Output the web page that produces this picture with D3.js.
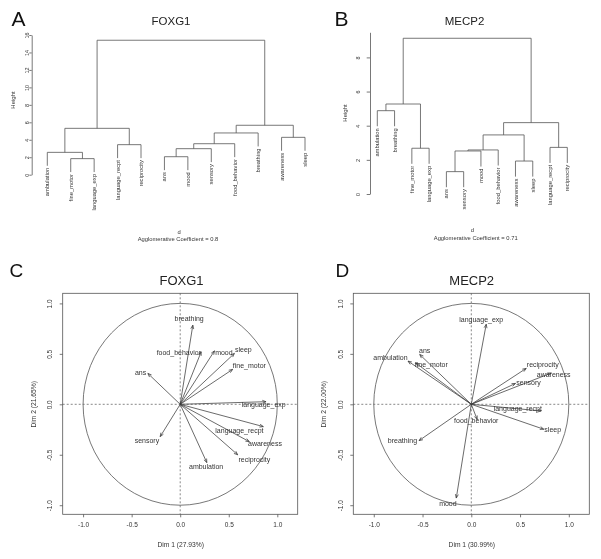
<!DOCTYPE html>
<html>
<head>
<meta charset="utf-8">
<script src="https://cdn.jsdelivr.net/npm/d3@7"></script>
<style>
  html, body { margin: 0; padding: 0; background: #fff; }
  svg { display: block; will-change: transform; }
</style>
</head>
<body>
<svg id="fig" width="601" height="559"></svg>
<script>
// ---------------- DATA ----------------
// Panel A: FOXG1 dendrogram (leaf order, R-style merges: negative = leaf index, positive = merge index, height)
const dendroA_labels = ["ambulation","fine_motor","language_exp","language_recpt","reciprocity","ans","mood","sensory","food_behavior","breathing","awareness","sleep"];
const dendroA_left   = [-2, -6, -1,  2, -4,  4, -11,  6,  3,  8,  9];
const dendroA_right  = [-3, -7,  1, -8, -5, -9, -12, -10, 5,  7, 10];
const dendroA_height = [1.84, 2.06, 2.56, 2.98, 3.44, 3.55, 4.28, 4.78, 5.31, 5.66, 15.4];
const dendroA_ticks  = [0, 2, 4, 6, 8, 10, 12, 14, 16];
const dendroA_coef   = "0.8";

// Panel B: MECP2 dendrogram
const dendroB_labels = ["ambulation","breathing","fine_motor","language_exp","ans","sensory","mood","food_behavior","awareness","sleep","language_recpt","reciprocity"];
const dendroB_left   = [-5, -9, 1, 3, -3, -11, 4, 7, -1,  9, 10];
const dendroB_right  = [-6, -10, -7, -8, -4, -12, 2, 6, -2, 5, 8];
const dendroB_height = [1.31, 1.93, 2.52, 2.58, 2.68, 2.73, 3.46, 4.18, 4.88, 5.27, 9.12];
const dendroB_ticks  = [0, 2, 4, 6, 8];
const dendroB_coef   = "0.71";

// Panel C: FOXG1 variables factor map
const pcaC_vars   = ["breathing","food_behavior","mood","sleep","fine_motor","ans","language_exp","language_recpt","awareness","reciprocity","ambulation","sensory"];
const pcaC_dim1   = [0.130, 0.216, 0.353, 0.558, 0.540, -0.333, 0.884, 0.856, 0.712, 0.592, 0.274, -0.206];
const pcaC_dim2   = [0.784, 0.520, 0.530, 0.504, 0.346, 0.306, 0.026, -0.221, -0.370, -0.500, -0.577, -0.320];
const pcaC_labX   = [0.092, -0.014, 0.450, 0.650, 0.712, -0.408, 0.860, 0.610, 0.873, 0.764, 0.267, -0.343];
const pcaC_labY   = [0.850, 0.510, 0.510, 0.543, 0.388, 0.316, -0.007, -0.264, -0.386, -0.550, -0.617, -0.360];
const pcaC_axis   = ["Dim 1 (27.93%)", "Dim 2 (21.65%)"];

// Panel D: MECP2 variables factor map
const pcaD_vars   = ["language_exp","ans","ambulation","fine_motor","reciprocity","awareness","sensory","language_recpt","sleep","food_behavior","breathing","mood"];
const pcaD_dim1   = [0.153, -0.529, -0.649, -0.570, 0.563, 0.820, 0.453, 0.716, 0.743, 0.060, -0.536, -0.154];
const pcaD_dim2   = [0.793, 0.494, 0.428, 0.410, 0.356, 0.310, 0.207, -0.066, -0.247, -0.150, -0.360, -0.929];
const pcaD_labX   = [0.102, -0.478, -0.829, -0.410, 0.733, 0.845, 0.587, 0.477, 0.835, 0.051, -0.706, -0.240];
const pcaD_labY   = [0.843, 0.537, 0.460, 0.395, 0.395, 0.290, 0.217, -0.040, -0.254, -0.162, -0.360, -0.985];
const pcaD_axis   = ["Dim 1 (30.99%)", "Dim 2 (22.00%)"];

const pcaTicks = [-1, -0.5, 0, 0.5, 1];
const panelLetters = ["A", "B", "C", "D"];
const panelTitles  = ["FOXG1", "MECP2", "FOXG1", "MECP2"];

// ---------------- DRAWING ----------------
const FONT = "'Liberation Sans', Arial, Helvetica, sans-serif";
const INK = "#333";
const LINE = "#555";
const svg = d3.select("#fig");
svg.append("rect").attr("width", 601).attr("height", 559).attr("fill", "#fff");

function txt(g, x, y, s, size, opts = {}) {
  const t = g.append("text")
    .attr("x", x).attr("y", y)
    .attr("font-family", FONT)
    .attr("font-size", size)
    .attr("fill", opts.fill || INK)
    .attr("text-anchor", opts.anchor || "middle")
    .text(s);
  if (opts.rotate) t.attr("transform", `rotate(${opts.rotate},${x},${y})`);
  if (opts.dy) t.attr("dy", opts.dy);
  return t;
}

function dendro(cfg) {
  const g = svg.append("g");
  const { labels, left, right, height } = cfg;
  const x = d3.scalePoint().domain(labels).range([cfg.x0, cfg.x1]);
  const y = d3.scaleLinear().domain([0, cfg.yMax]).range([cfg.yBase, cfg.yTop]);
  const hang = 0.1 * d3.max(height);
  const nodes = [];
  const leafPos = [];
  function child(c, h) {
    if (c < 0) {
      const name = labels[-c - 1];
      const n = { x: x(name), h: h - hang };
      leafPos.push({ name, x: n.x, h: n.h });
      return n;
    }
    return nodes[c - 1];
  }
  height.forEach((h, i) => {
    const a = child(left[i], h), b = child(right[i], h);
    g.append("path")
      .attr("d", `M${a.x},${y(a.h)}V${y(h)}H${b.x}V${y(b.h)}`)
      .attr("fill", "none").attr("stroke", LINE).attr("stroke-width", 0.8);
    nodes.push({ x: (a.x + b.x) / 2, h });
  });
  leafPos.forEach(p => {
    const yy = y(p.h) + 2;
    g.append("text")
      .attr("transform", `translate(${p.x},${yy}) rotate(-90)`)
      .attr("dy", "0.35em")
      .attr("text-anchor", "end")
      .attr("font-family", FONT).attr("font-size", 5.8).attr("fill", INK)
      .text(p.name);
  });
  const ax = g.append("g").attr("transform", `translate(${cfg.axisX},0)`)
    .call(d3.axisLeft(y).tickValues(cfg.ticks).tickSize(cfg.tickLen).tickSizeOuter(0).tickFormat(d3.format("d")));
  ax.attr("font-family", FONT).attr("font-size", 5.5);
  ax.select(".domain").attr("stroke", LINE).attr("stroke-width", 0.8);
  ax.selectAll(".tick line").attr("stroke", LINE).attr("stroke-width", 0.8);
  ax.selectAll(".tick text")
    .attr("x", null).attr("dy", "0.35em")
    .attr("transform", `translate(${-cfg.labOff},0) rotate(-90)`)
    .attr("text-anchor", "middle").attr("fill", INK);
  g.append("text")
    .attr("transform", `translate(${cfg.heightX},${cfg.heightY}) rotate(-90)`)
    .attr("dy", "0.35em").attr("text-anchor", "middle")
    .attr("font-family", FONT).attr("font-size", 6).attr("fill", INK).text("Height");
  txt(g, cfg.dX, cfg.dY, "d", 5.8);
  txt(g, cfg.acX, cfg.acY, "Agglomerative Coefficient =  " + cfg.coef, 5.8);
}

function pca(cfg) {
  const g = svg.append("g");
  const x = d3.scaleLinear().domain([-1.21, 1.21]).range([cfg.left, cfg.right]);
  const y = d3.scaleLinear().domain([-1.09, 1.10]).range([cfg.bottom, cfg.top]);
  g.append("rect").attr("x", cfg.left).attr("y", cfg.top)
    .attr("width", cfg.right - cfg.left).attr("height", cfg.bottom - cfg.top)
    .attr("fill", "none").attr("stroke", LINE).attr("stroke-width", 0.8);
  g.append("ellipse").attr("cx", x(0)).attr("cy", y(0))
    .attr("rx", x(1) - x(0)).attr("ry", y(0) - y(1))
    .attr("fill", "none").attr("stroke", LINE).attr("stroke-width", 0.8);
  g.append("line").attr("x1", cfg.left).attr("x2", cfg.right).attr("y1", y(0)).attr("y2", y(0))
    .attr("stroke", LINE).attr("stroke-width", 0.7).attr("stroke-dasharray", "2,2");
  g.append("line").attr("x1", x(0)).attr("x2", x(0)).attr("y1", cfg.top).attr("y2", cfg.bottom)
    .attr("stroke", LINE).attr("stroke-width", 0.7).attr("stroke-dasharray", "2,2");
  cfg.vars.forEach((v, i) => {
    const x0 = x(0), y0 = y(0), x1 = x(cfg.d1[i]), y1 = y(cfg.d2[i]);
    g.append("line").attr("x1", x0).attr("y1", y0).attr("x2", x1).attr("y2", y1)
      .attr("stroke", "#3a3a3a").attr("stroke-width", 0.75);
    const a = Math.atan2(y1 - y0, x1 - x0), L = 4, th = 0.38;
    const p1 = [x1 - L * Math.cos(a - th), y1 - L * Math.sin(a - th)];
    const p2 = [x1 - L * Math.cos(a + th), y1 - L * Math.sin(a + th)];
    g.append("path").attr("d", `M${p1[0]},${p1[1]}L${x1},${y1}L${p2[0]},${p2[1]}`)
      .attr("fill", "none").attr("stroke", "#3a3a3a").attr("stroke-width", 0.75);
  });
  cfg.vars.forEach((v, i) => {
    txt(g, x(cfg.lx[i]), y(cfg.ly[i]), v, 7, { dy: "0.35em" });
  });
  const fmt = d => d3.format(".1f")(d).replace("\u2212", "-");
  const bx = g.append("g").attr("transform", `translate(0,${cfg.bottom})`)
    .call(d3.axisBottom(x).tickValues(pcaTicks).tickSize(3).tickPadding(5.5).tickFormat(fmt));
  bx.select(".domain").remove();
  bx.attr("font-family", FONT).attr("font-size", 6.5);
  bx.selectAll(".tick line").attr("stroke", LINE).attr("stroke-width", 0.8);
  bx.selectAll(".tick text").attr("fill", INK);
  const ly = g.append("g").attr("transform", `translate(${cfg.left},0)`)
    .call(d3.axisLeft(y).tickValues(pcaTicks).tickSize(3).tickFormat(fmt));
  ly.select(".domain").remove();
  ly.attr("font-family", FONT).attr("font-size", 6.5);
  ly.selectAll(".tick line").attr("stroke", LINE).attr("stroke-width", 0.8);
  ly.selectAll(".tick text")
    .attr("x", null).attr("dy", "0.35em")
    .attr("transform", "translate(-12.7,0) rotate(-90)")
    .attr("text-anchor", "middle").attr("fill", INK);
  txt(g, (x(-1.21) + x(1.21)) / 2 + 0.5, 546.5, cfg.axis[0], 6.7);
  g.append("text")
    .attr("transform", `translate(${cfg.left - 29.5},${y(0)}) rotate(-90)`)
    .attr("dy", "0.35em").attr("text-anchor", "middle")
    .attr("font-family", FONT).attr("font-size", 6.7).attr("fill", INK).text(cfg.axis[1]);
}

dendro({
  labels: dendroA_labels, left: dendroA_left, right: dendroA_right, height: dendroA_height,
  ticks: dendroA_ticks, coef: dendroA_coef,
  x0: 47.3, x1: 305, yMax: 16, yBase: 174.7, yTop: 35,
  axisX: 31.7, tickLen: 2.4, labOff: 5,
  heightX: 13.3, heightY: 100, dX: 179, dY: 233.5, acX: 178, acY: 241
});

dendro({
  labels: dendroB_labels, left: dendroB_left, right: dendroB_right, height: dendroB_height,
  ticks: dendroB_ticks, coef: dendroB_coef,
  x0: 377.3, x1: 567.3, yMax: 9.47, yBase: 194, yTop: 32.3,
  axisX: 370, tickLen: 3.3, labOff: 11.7,
  heightX: 345, heightY: 113, dX: 472.3, dY: 232, acX: 475.7, acY: 240
});

pca({
  vars: pcaC_vars, d1: pcaC_dim1, d2: pcaC_dim2, lx: pcaC_labX, ly: pcaC_labY, axis: pcaC_axis,
  left: 62.7, right: 297.7, top: 293.3, bottom: 514.3
});

pca({
  vars: pcaD_vars, d1: pcaD_dim1, d2: pcaD_dim2, lx: pcaD_labX, ly: pcaD_labY, axis: pcaD_axis,
  left: 353.3, right: 589.3, top: 293.3, bottom: 514.3
});

const letterPos = [[11.5, 25.5, 21], [334.5, 25.5, 21], [9.5, 276.5, 19], [335.5, 276.5, 19]];
const titlePos  = [[171, 24.5, 11.5], [464.5, 24.5, 11.5], [181.5, 284.5, 13], [471.7, 284.5, 13]];
panelLetters.forEach((L, i) => {
  txt(svg, letterPos[i][0], letterPos[i][1], L, letterPos[i][2], { anchor: "start", fill: "#111" });
  txt(svg, titlePos[i][0], titlePos[i][1], panelTitles[i], titlePos[i][2], { fill: "#222" });
});
</script>
</body>
</html>
